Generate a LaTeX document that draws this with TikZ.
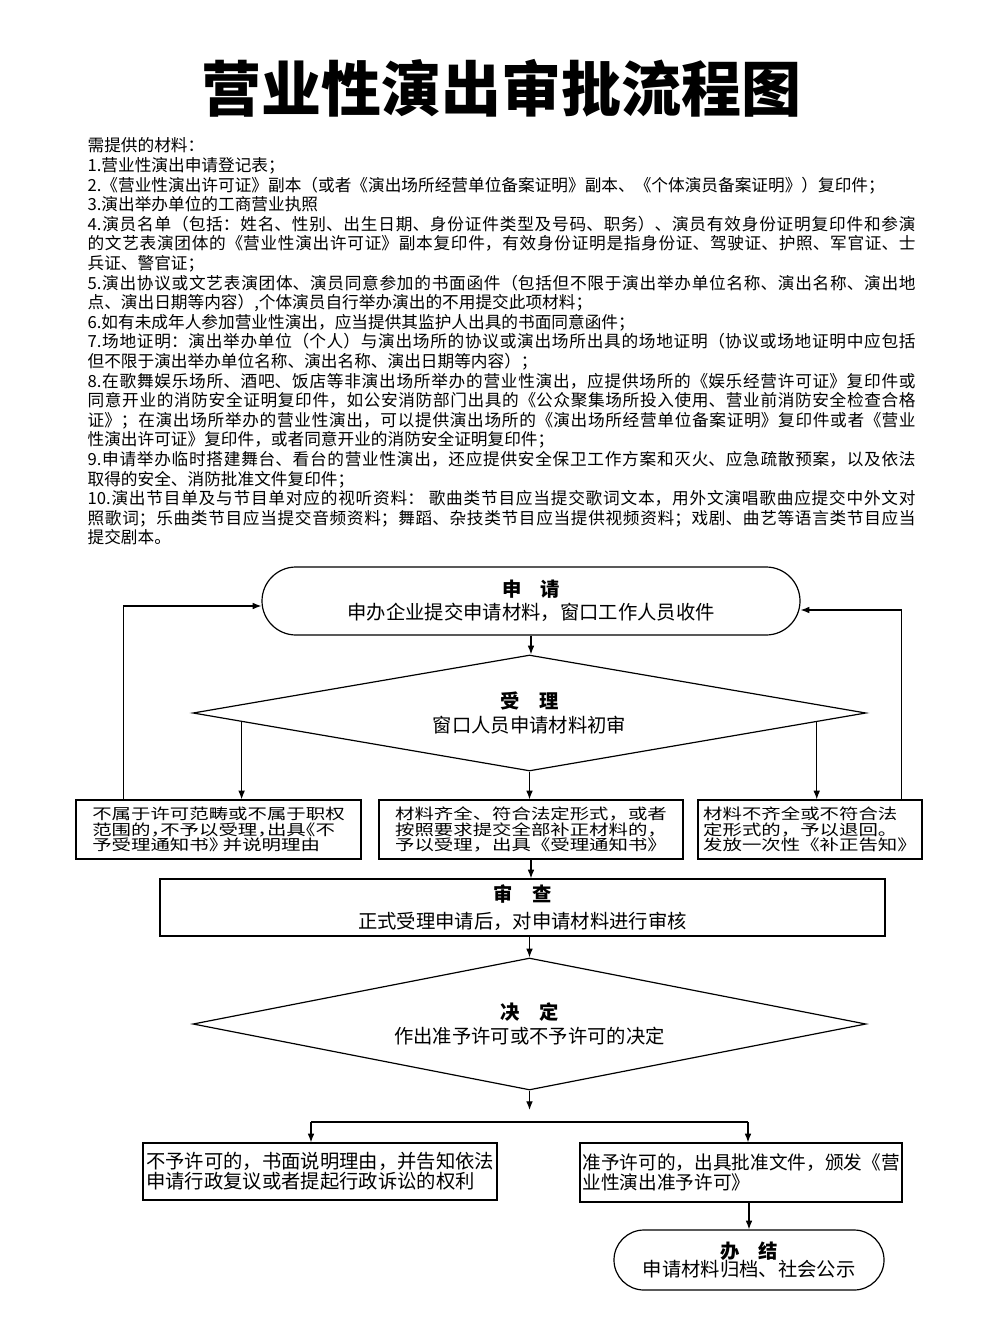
\documentclass[tikz,border=0pt]{standalone}
\usepackage{fontspec}
\setmainfont{Noto Sans CJK SC}
\newfontfamily\widefont[FakeStretch=1.3]{Noto Sans CJK SC}
\newfontfamily\halffont[FakeStretch=1.3,RawFeature=+halt]{Noto Sans CJK SC}
\usetikzlibrary{shapes.geometric,shapes.misc,arrows.meta}
\XeTeXlinebreaklocale "zh"
\XeTeXlinebreakskip=0pt plus 1pt
\begin{document}
\begin{tikzpicture}[x=0.75pt,y=-0.75pt,line width=0.9pt,
  every node/.style={font=\fontsize{14.5}{17}\selectfont,inner sep=0pt},
  arr/.style={-{Latex[length=6.5pt,width=5pt]}},
  stage/.style={draw,rounded rectangle,minimum height=51pt,align=center},
  check/.style={draw,diamond,shape aspect=5.8,minimum width=504.75pt,minimum height=87pt,align=center},
  memo/.style={draw,align=left,minimum height=44.25pt},
  small/.style={font=\widefont\fontsize{11.2}{11.6}\selectfont}]
\useasboundingbox (0,0) rectangle (1000,1333);
\node[font=\fontsize{45}{50}\selectfont\bfseries] (title) at (501,88) {营业性演出审批流程图};
% materials
\node[anchor=base west,text width=621pt,align=justify,font=\fontsize{12.5}{14.7}\selectfont] (need) at (87,152) {需提供的材料：\par
1.营业性演出申请登记表；\par
2.《营业性演出许可证》副本（或者《演出场所经营单位备案证明》副本、《个体演员备案证明》）复印件；\par
3.演出举办单位的工商营业执照\par
4.演员名单（包括：姓名、性别、出生日期、身份证件类型及号码、职务）、演员有效身份证明复印件和参演\linebreak
的文艺表演团体的《营业性演出许可证》副本复印件，有效身份证明是指身份证、驾驶证、护照、军官证、士\linebreak
兵证、警官证；\par
5.演出协议或文艺表演团体、演员同意参加的书面函件（包括但不限于演出举办单位名称、演出名称、演出地\linebreak
点、演出日期等内容）,个体演员自行举办演出的不用提交此项材料；\par
6.如有未成年人参加营业性演出，应当提供其监护人出具的书面同意函件；\par
7.场地证明：演出举办单位（个人）与演出场所的协议或演出场所出具的场地证明（协议或场地证明中应包括\linebreak
但不限于演出举办单位名称、演出名称、演出日期等内容）；\par
8.在歌舞娱乐场所、酒吧、饭店等非演出场所举办的营业性演出，应提供场所的《娱乐经营许可证》复印件或\linebreak
同意开业的消防安全证明复印件，如公安消防部门出具的《公众聚集场所投入使用、营业前消防安全检查合格\linebreak
证》；在演出场所举办的营业性演出，可以提供演出场所的《演出场所经营单位备案证明》复印件或者《营业\linebreak
性演出许可证》复印件，或者同意开业的消防安全证明复印件；\par
9.申请举办临时搭建舞台、看台的营业性演出，还应提供安全保卫工作方案和灭火、应急疏散预案，以及依法\linebreak
取得的安全、消防批准文件复印件；\par
10.演出节目单及与节目单对应的视听资料： 歌曲类节目应当提交歌词文本，用外文演唱歌曲应提交中外文对\linebreak
照歌词；乐曲类节目应当提交音频资料；舞蹈、杂技类节目应当提供视频资料；戏剧、曲艺等语言类节目应当\linebreak
提交剧本。};
% flow
\node[stage,minimum width=403.5pt] (apply) at (531,601) {{\bfseries 申　请}\\申办企业提交申请材料，窗口工作人员收件};
\node[check] (accept) at (529.5,713) {{\bfseries 受　理}\\[1pt]窗口人员申请材料初审};
\node[memo,small,font=\halffont\fontsize{11.2}{11.6}\selectfont,minimum width=213.75pt] (reject) at (218.5,829.5) {不属于许可范畴或不属于职权\\范围的，不予以受理，出具《不\\予受理通知书》 并说明理由};
\node[memo,small,minimum width=228pt] (admit) at (531,829.5) {材料齐全、符合法定形式，或者\\按照要求提交全部补正材料的，\\予以受理，出具《受理通知书》};
\node[memo,small,minimum width=168pt] (amend) at (810,829.5) {材料不齐全或不符合法\\定形式的，予以退回。\\发放一次性《补正告知》};
\node[draw,align=center,minimum width=543.75pt,minimum height=42.75pt] (review) at (522.5,907.5) {{\bfseries 审　查}\\[3pt]正式受理申请后，对申请材料进行审核};
\node[check,minimum height=99pt] (decide) at (529.5,1024) {{\bfseries 决　定}\\[1pt]作出准予许可或不予许可的决定};
\node[memo,minimum width=265.5pt,minimum height=42.75pt,font=\fontsize{14.5}{15}\selectfont] (deny) at (320,1171.5) {不予许可的，书面说明理由，并告知依法\\申请行政复议或者提起行政诉讼的权利};
\node[memo,minimum width=241.5pt,font=\fontsize{14}{15}\selectfont] (grant) at (741,1172.5) {准予许可的，出具批准文件，颁发《营\\业性演出准予许可》};
\node[stage,minimum width=202.5pt,minimum height=45pt] (finish) at (749,1260) {{\bfseries 办　结}\\[-3pt]申请材料归档、社会公示};
\path (accept.west) -- coordinate[pos=0.146] (aL) (accept.south);
\path (accept.east) -- coordinate[pos=0.148] (aR) (accept.south);
\draw[arr] (apply.south) -- (apply.south |- accept.north);
\draw[arr] (aL) -- (aL |- reject.north);
\draw[arr] (accept.south) -- (accept.south |- admit.north);
\draw[arr] (aR) -- (aR |- amend.north);
\draw[arr] ([xshift=36pt]reject.north west) |- ([yshift=-3.75pt]apply.west);
\draw[arr] ([xshift=-15.75pt]amend.north east) |- ([yshift=-6.75pt]apply.east);
\draw[arr] (admit.south) -- (admit.south |- review.north);
\draw[arr] (decide.north |- review.south) -- (decide.north);
\coordinate (drop) at (529.5,1110);
\draw[arr] (decide.south) -- (drop);
\coordinate (forkL) at (311,1122);
\coordinate (forkR) at (748,1122);
\draw (forkL) -- (forkR);
\draw[arr] (forkL) -- (forkL |- deny.north);
\draw[arr] (forkR) -- (forkR |- grant.north);
\draw[arr] (finish.north |- grant.south) -- (finish.north);
\end{tikzpicture}
\end{document}
